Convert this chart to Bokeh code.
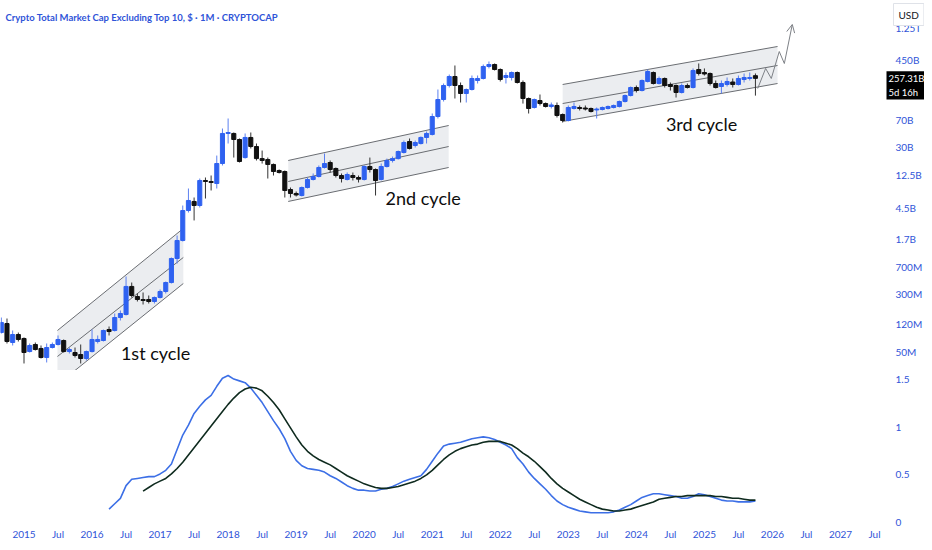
import numpy as np
from bokeh.plotting import figure
from bokeh.layouts import column, row
from bokeh.models import Range1d, FixedTicker, Label, Arrow, OpenHead, ColumnDataSource
from bokeh.embed import file_html
from bokeh.resources import INLINE
from bokeh.core.properties import value

# ---------------- data (monthly candles, values in billions USD) ----------------
first_month = -4  # Sep 2014, month index relative to Jan 2015

open_b = [0.0906, 0.1201, 0.0663, 0.0851,
          0.0752, 0.0500, 0.0623, 0.0550, 0.0415, 0.0567, 0.0623, 0.0706, 0.0500, 0.0485, 0.0455, 0.0402,
          0.0500, 0.0684, 0.0706, 0.0996, 0.0965, 0.1449, 0.1592, 0.383, 0.2797, 0.2546, 0.2546, 0.2392,
          0.2711, 0.3271, 0.433, 0.918, 1.613, 4.12, 5.47, 4.82, 10.54, 10.21, 9.59, 17.93,
          45.9, 45.9, 38.0, 21.6, 40.5, 30.5, 20.9, 20.3, 17.4, 14.41, 13.96, 7.95,
          7.02, 6.59, 8.46, 10.88, 11.94, 15.83, 18.5, 15.34, 12.32, 10.88, 12.32, 11.57,
          10.88, 16.33, 14.86, 10.88, 16.33, 19.7, 20.9, 25.3, 35.7, 31.5, 33.5, 40.5,
          44.5, 78.0, 132.8, 205.8, 272.7, 205.8, 160.2, 181.6, 240.7, 256.3, 373, 397,
          339.6, 264.4, 264.4, 309, 226.1, 137.0, 103.4, 128.7, 117.1, 106.7, 110.1, 83.1,
          68.9, 100.2, 103.4, 101.8, 100.2, 95.7, 97.1, 100.2, 103.4, 106.7, 124.7, 150.5,
          193.3, 176.0, 233.3, 309, 219, 256.3, 212.4, 205.8, 165.4, 205.8, 193.3, 339.6,
          309, 299.6, 219, 199.4, 212.4, 229.6, 212.4, 248.4, 256.3, 280]

high_b = [0.1449, 0.1404, 0.0965, 0.0906,
          0.0776, 0.0643, 0.0663, 0.0604, 0.0643, 0.0663, 0.0826, 0.0729, 0.0567, 0.0567, 0.0623, 0.0516,
          0.0996, 0.0826, 0.0996, 0.1094, 0.1643, 0.1805, 0.523, 0.433, 0.3072, 0.3170, 0.2886, 0.2797,
          0.3484, 0.447, 0.948, 1.886, 4.82, 8.20, 6.19, 11.21, 11.57, 12.32, 23.0, 53.6,
          73.3, 47.3, 39.2, 45.9, 47.3, 33.5, 26.9, 21.6, 17.9, 14.86, 14.41, 8.46,
          7.47, 8.73, 11.57, 13.12, 16.85, 24.5, 19.7, 15.83, 13.12, 13.53, 13.53, 12.32,
          16.85, 21.6, 15.34, 17.93, 20.9, 22.3, 26.9, 36.8, 39.2, 36.8, 41.8, 48.8,
          85.7, 181.6, 219, 290, 384.8, 226.1, 187.4, 281.4, 281.4, 397, 436, 410,
          351, 309, 319, 319, 240.7, 141.3, 137.0, 155.3, 120.9, 120.9, 120.9, 85.7,
          110.1, 120.9, 110.1, 110.1, 103.4, 103.4, 106.7, 110.1, 113.6, 128.7, 155.3, 199.4,
          205.8, 248.4, 339.6, 319, 272.7, 264.4, 226.1, 212.4, 219, 219, 351, 410,
          351, 309, 240.7, 240.7, 264.4, 256.3, 281.4, 299.6, 309, 300]

low_b = [0.0878, 0.0643, 0.0604, 0.0684,
         0.0344, 0.0485, 0.0516, 0.0402, 0.0355, 0.0550, 0.0604, 0.0485, 0.0470, 0.0415, 0.0344, 0.0378,
         0.0485, 0.0643, 0.0684, 0.0826, 0.0935, 0.1320, 0.1543, 0.2711, 0.2392, 0.2177, 0.2246, 0.2246,
         0.2627, 0.3072, 0.420, 0.786, 1.563, 3.87, 3.02, 4.53, 6.00, 7.71, 8.20, 16.85,
         33.5, 21.6, 18.5, 20.9, 28.7, 19.7, 17.9, 11.21, 12.32, 13.12, 6.19, 6.19,
         6.39, 6.39, 8.20, 10.54, 11.57, 15.34, 13.53, 11.57, 9.90, 10.54, 10.54, 9.90,
         10.54, 13.53, 6.59, 10.54, 15.83, 18.5, 20.3, 24.5, 27.8, 29.6, 32.5, 33.5,
         43.1, 73.3, 124.7, 193.3, 137.0, 120.9, 120.9, 176.0, 219, 248.4, 351, 329.1,
         233.3, 219, 240.7, 219, 116.9, 85.7, 100.2, 110.1, 103.4, 100.2, 75.6, 64.7,
         66.8, 97.1, 94.2, 94.2, 88.5, 73.3, 94.2, 97.1, 100.2, 103.4, 120.9, 145.9,
         165.4, 170.6, 226.1, 212.4, 212.4, 193.3, 176.0, 141.3, 160.2, 187.4, 187.4, 281.4,
         281.4, 205.8, 187.4, 160.2, 199.4, 193.3, 205.8, 226.1, 240.7, 150]

close_b = [0.1240, 0.0684, 0.0851, 0.0729,
           0.0485, 0.0604, 0.0533, 0.0415, 0.0567, 0.0623, 0.0729, 0.0500, 0.0533, 0.0442, 0.0402, 0.0500,
           0.0729, 0.0729, 0.0965, 0.0935, 0.1449, 0.1643, 0.383, 0.2886, 0.2546, 0.2468, 0.2392, 0.2711,
           0.3271, 0.433, 0.918, 1.613, 4.12, 5.64, 4.82, 10.54, 10.21, 9.9, 17.93, 45.9,
           47.3, 38.0, 19.1, 40.5, 30.5, 20.9, 19.7, 17.4, 13.96, 13.53, 7.71, 7.02,
           6.70, 8.46, 10.88, 11.94, 15.83, 17.93, 14.86, 12.32, 11.21, 12.71, 11.57, 11.0,
           16.33, 14.86, 10.54, 16.33, 19.7, 20.9, 26.1, 34.6, 28.7, 34.6, 40.5, 45.9,
           78.0, 132.8, 205.8, 272.7, 205.8, 160.2, 181.6, 256.3, 256.3, 373, 397, 339.6,
           248.4, 281.4, 309, 226.1, 137.0, 100.2, 132.8, 117.1, 106.7, 112, 80.5, 68.9,
           103.4, 106.7, 100.2, 98.6, 91.3, 98.6, 103.4, 106.7, 110.1, 124.7, 150.5, 193.3,
           176.0, 240.7, 319, 219, 256.3, 205.8, 199.4, 165.4, 205.8, 193.3, 329.1, 299.6,
           295, 219, 193.3, 219, 233.3, 212.4, 256.3, 264.4, 264.4, 257.31]

# lower indicator pane
blue_start = 15
blue_vals = [0.06, 0.12, 0.18, 0.32, 0.39, 0.40, 0.41, 0.42, 0.42, 0.45,
             0.49, 0.56, 0.72, 0.88, 0.99, 1.12, 1.20, 1.27, 1.32, 1.42,
             1.51, 1.54, 1.50, 1.48, 1.46, 1.40, 1.32, 1.24, 1.14, 1.04,
             0.95, 0.84, 0.70, 0.60, 0.54, 0.51, 0.50, 0.49, 0.47, 0.43,
             0.40, 0.36, 0.32, 0.29, 0.27, 0.27, 0.26, 0.26, 0.28, 0.29,
             0.31, 0.34, 0.37, 0.39, 0.41, 0.43, 0.50, 0.59, 0.68, 0.76,
             0.78, 0.79, 0.80, 0.82, 0.84, 0.85, 0.86, 0.85, 0.83, 0.80,
             0.77, 0.73, 0.63, 0.56, 0.47, 0.40, 0.34, 0.28, 0.21, 0.15,
             0.11, 0.08, 0.06, 0.04, 0.03, 0.02, 0.02, 0.02, 0.02,
             0.03, 0.05, 0.08, 0.11, 0.15, 0.19, 0.21, 0.23, 0.23, 0.22,
             0.21, 0.20, 0.18, 0.18, 0.20, 0.23, 0.22, 0.20, 0.18, 0.16,
             0.15, 0.15, 0.14, 0.14, 0.14, 0.15]
black_start = 21
black_vals = [0.26, 0.30, 0.34, 0.37, 0.40, 0.45, 0.51, 0.58, 0.66, 0.74,
              0.82, 0.90, 0.98, 1.06, 1.14, 1.22, 1.29, 1.35, 1.39, 1.41,
              1.40, 1.37, 1.31, 1.24, 1.16, 1.06, 0.96, 0.86, 0.77, 0.70,
              0.65, 0.61, 0.58, 0.55, 0.51, 0.47, 0.43, 0.40, 0.37, 0.34,
              0.32, 0.30, 0.29, 0.29, 0.30, 0.31, 0.33, 0.35, 0.37, 0.40,
              0.44, 0.49, 0.55, 0.61, 0.66, 0.70, 0.73, 0.75, 0.77, 0.78,
              0.80, 0.81, 0.81, 0.81, 0.79, 0.77, 0.73, 0.68, 0.64, 0.59,
              0.53, 0.47, 0.40, 0.34, 0.29, 0.25, 0.21, 0.17, 0.14, 0.11,
              0.08, 0.06, 0.05, 0.04, 0.04, 0.05, 0.06, 0.08, 0.10, 0.12,
              0.14, 0.17, 0.18, 0.19, 0.20, 0.20, 0.21, 0.21, 0.21, 0.21,
              0.21, 0.20, 0.20, 0.19, 0.18, 0.18, 0.17, 0.16, 0.16]

# channel drawings: (month index, value in billions)
ch_months = [[5.9, 28.1], [46.6, 74.9], [95.0, 132.9]]
ch_upper = [[0.0965, 2.35], [19.7, 58.9], [212.4, 697]]
ch_mid = [[0.0428, 0.948], [10.21, 30.5], [117.1, 384.8]]
ch_lower = [[0.0178, 0.420], [5.47, 15.83], [66.8, 219]]

cycle_labels = ["1st cycle", "2nd cycle", "3rd cycle"]
cycle_label_m = [23.2, 70.4, 119.5]
cycle_label_v = [0.0485, 6.19, 60.8]

proj_m = [129.4, 130.8, 131.8, 133.2, 134.1, 135.5]
proj_v = [187.4, 351, 256.3, 596, 409.6, 1389]

price_ticks = [1.25e12, 450e9, 70e9, 30e9, 12.5e9, 4.5e9, 1.7e9, 700e6, 300e6, 120e6, 50e6]
price_labels = ["1.25T", "450B", "70B", "30B", "12.5B", "4.5B", "1.7B", "700M", "300M", "120M", "50M"]
ind_ticks = [0, 0.5, 1, 1.5]
ind_labels = ["0", "0.5", "1", "1.5"]
last_price_text = "257.31B\n5d 16h"
title_text = "Crypto Total Market Cap Excluding Top 10, $ \u00b7 1M \u00b7 CRYPTOCAP"

# ---------------- styling / layout ----------------
FONT = "Lato"
TXT = "#2f54d8"
UP = "#2f62f0"
UP_WICK = "#5c80f0"
DN = "#111111"
DN_WICK = "#333333"

B = 1e9
n = len(open_b)
m = np.arange(n) + first_month
o = np.array(open_b) * B
h = np.array(high_b) * B
l = np.array(low_b) * B
c = np.array(close_b) * B
up = c >= o
src = ColumnDataSource(dict(
    m=m, top=np.maximum(o, c), bottom=np.minimum(o, c), high=h, low=l,
    fill=[UP if u else DN for u in up], wick=[UP_WICK if u else DN_WICK for u in up]))

MAIN_W = 885
SIDE_W = 39
H1 = 370
H2 = 172
BOTTOM = 19
px_per_month = 5.67
x0 = -23.5 / px_per_month
xr = Range1d(x0, x0 + MAIN_W / px_per_month)
yr_main = Range1d(2.762e7, 2.940e12)

px_per_unit = 95.3
ind_top = 1.595
yr_ind = Range1d(ind_top - (H2 - BOTTOM) / px_per_unit, ind_top)
yr_ind_side = Range1d(ind_top - H2 / px_per_unit, ind_top)


def clean(p):
    p.grid.visible = False
    p.outline_line_color = None
    p.background_fill_color = "white"
    p.border_fill_color = "white"


p1 = figure(width=MAIN_W, height=H1, x_range=xr, y_range=yr_main, y_axis_type="log",
            x_axis_location=None, y_axis_location=None,
            output_backend="svg", toolbar_location=None,
            min_border_left=0, min_border_right=0, min_border_top=0, min_border_bottom=0)
clean(p1)

# channels
for cm, cu, cmid, cl in zip(ch_months, ch_upper, ch_mid, ch_lower):
    p1.patch([cm[0], cm[1], cm[1], cm[0]],
             [cu[0] * B, cu[1] * B, cl[1] * B, cl[0] * B],
             fill_color="#e3e6ea", fill_alpha=0.7, line_color=None)
    for vals in (cu, cmid, cl):
        p1.line(cm, [v * B for v in vals], line_color="#6a6d72", line_width=1)

# candles
p1.segment(x0="m", y0="high", x1="m", y1="low", line_color="wick", line_width=1, source=src)
p1.vbar(x="m", width=0.72, top="top", bottom="bottom", fill_color="fill", line_color="fill", source=src)

# cycle labels
p1.text(x=cycle_label_m, y=[v * B for v in cycle_label_v], text=cycle_labels,
        text_font=value(FONT), text_font_size="18px", text_color="#0d0d0d",
        text_align="center", text_baseline="middle")

# projection path
pv = [v * B for v in proj_v]
p1.line(proj_m[:-1], pv[:-1], line_color="#7d8086", line_width=1)
p1.add_layout(Arrow(end=OpenHead(size=8, line_color="#7d8086", line_width=1),
                    x_start=proj_m[-2], y_start=pv[-2], x_end=proj_m[-1], y_end=pv[-1],
                    line_color="#7d8086", line_width=1))

# title
p1.add_layout(Label(x=xr.start, y=yr_main.end, x_offset=5, y_offset=-11, text=title_text,
                    text_font=FONT, text_font_size="9.5px", text_font_style="bold",
                    text_color=TXT, text_baseline="top"))

# side price scale (right)
s1 = figure(width=SIDE_W, height=H1, x_range=Range1d(0, 1), y_range=yr_main, y_axis_type="log",
            x_axis_location=None, y_axis_location=None,
            output_backend="svg", toolbar_location=None,
            min_border_left=0, min_border_right=0, min_border_top=0, min_border_bottom=0)
clean(s1)
s1.text(x=[0] * len(price_ticks), y=price_ticks, text=price_labels, x_offset=10,
        text_font=value(FONT), text_font_size="10px", text_color=TXT,
        text_align="left", text_baseline="middle")
s1.add_layout(Label(x=0, y=yr_main.end, x_offset=8, y_offset=-3, text="USD",
                    text_font=FONT, text_font_size="10px", text_color="#131722",
                    text_baseline="top", background_fill_color="white",
                    border_line_color="#dfe2e8", padding=5))
s1.add_layout(Label(x=0, y=close_b[-1] * B, x_offset=1, y_offset=7, text=last_price_text,
                    text_font=FONT, text_font_size="9.5px", text_color="white",
                    text_baseline="top", background_fill_color="black", padding=2))

# ---------------- lower pane ----------------
p2 = figure(width=MAIN_W, height=H2, x_range=xr, y_range=yr_ind, y_axis_location=None,
            output_backend="svg", toolbar_location=None,
            min_border_left=0, min_border_right=0, min_border_top=0, min_border_bottom=BOTTOM)
clean(p2)

bm = np.arange(len(blue_vals)) + blue_start
km = np.arange(len(black_vals)) + black_start
p2.line(bm, blue_vals, line_color="#3c6fe6", line_width=1.6)
p2.line(km, black_vals, line_color="#0f2b1f", line_width=1.6)

xa = p2.xaxis[0]
xticks = list(range(0, 151, 6))
xa.ticker = FixedTicker(ticks=xticks)
xa.major_label_overrides = {t: (str(2015 + t // 12) if t % 12 == 0 else "Jul") for t in xticks}
xa.axis_line_color = None
xa.major_tick_line_color = None
xa.minor_tick_line_color = None
xa.major_label_text_font = FONT
xa.major_label_text_font_size = "10px"
xa.major_label_text_color = TXT
xa.major_label_standoff = 6

s2 = figure(width=SIDE_W, height=H2, x_range=Range1d(0, 1), y_range=yr_ind_side,
            x_axis_location=None, y_axis_location=None,
            output_backend="svg", toolbar_location=None,
            min_border_left=0, min_border_right=0, min_border_top=0, min_border_bottom=0)
clean(s2)
s2.text(x=[0] * len(ind_ticks), y=ind_ticks, text=ind_labels, x_offset=10,
        text_font=value(FONT), text_font_size="10px", text_color=TXT,
        text_align="left", text_baseline="middle")

layout = row(column(p1, p2, spacing=0), column(s1, s2, spacing=0), spacing=0)
open("out.html", "w").write(file_html(layout, INLINE))
